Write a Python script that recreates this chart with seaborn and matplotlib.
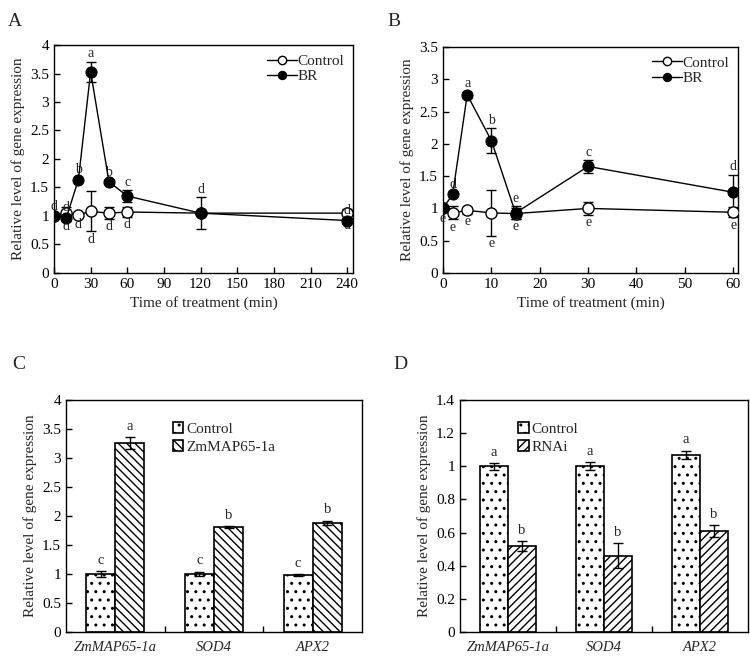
import numpy as np
import pandas as pd
import matplotlib
matplotlib.use("Agg")
import matplotlib.pyplot as plt
import seaborn as sns

sns.set_theme(style="white")
plt.rcParams['font.family'] = ['Liberation Serif', 'DejaVu Serif']
plt.rcParams['hatch.linewidth'] = 1.0

# ---------------- Data ----------------
# Panel A
a_time_br = [0, 10, 20, 30, 45, 60, 120, 240]
a_br = [1.0, 0.96, 1.64, 3.53, 1.60, 1.35, 1.05, 0.92]
a_br_err = [0.03, 0.05, 0.03, 0.18, 0.03, 0.10, 0.28, 0.04]
a_br_letters = ["d", "d", "b", "a", "b", "c", "d", "d"]
a_time_ctrl = [0, 10, 20, 30, 45, 60, 120, 240]
a_ctrl = [1.0, 1.05, 1.02, 1.08, 1.05, 1.07, 1.05, 1.05]
a_ctrl_err = [0.03, 0.10, 0.03, 0.35, 0.10, 0.08, 0.03, 0.08]
a_ctrl_letters = ["", "d", "d", "d", "d", "d", "", "d"]

# Panel B
b_time = [0, 2, 5, 10, 15, 30, 60]
b_br = [1.0, 1.22, 2.76, 2.05, 0.93, 1.65, 1.25]
b_br_err = [0.03, 0.03, 0.05, 0.19, 0.10, 0.10, 0.27]
b_br_letters = ["", "d", "a", "b", "e", "c", "d"]
b_ctrl = [1.0, 0.93, 0.97, 0.93, 0.92, 1.00, 0.94]
b_ctrl_err = [0.03, 0.10, 0.05, 0.35, 0.08, 0.10, 0.08]
b_ctrl_letters = ["e", "e", "e", "e", "e", "e", "e"]

# Panel C
genes = ["ZmMAP65-1a", "SOD4", "APX2"]
c_ctrl = [1.0, 1.0, 0.98]
c_ctrl_err = [0.05, 0.04, 0.02]
c_ctrl_letters = ["c", "c", "c"]
c_oe = [3.26, 1.81, 1.88]
c_oe_err = [0.10, 0.02, 0.04]
c_oe_letters = ["a", "b", "b"]

# Panel D
d_ctrl = [1.0, 1.0, 1.07]
d_ctrl_err = [0.02, 0.025, 0.025]
d_ctrl_letters = ["a", "a", "a"]
d_rnai = [0.52, 0.46, 0.61]
d_rnai_err = [0.03, 0.075, 0.035]
d_rnai_letters = ["b", "b", "b"]

# ---------------- Figure ----------------
fig = plt.figure(figsize=(7.5, 6.57), dpi=100)
axA = fig.add_axes([0.072, 0.5845, 0.399, 0.347])
axB = fig.add_axes([0.5907, 0.5845, 0.3933, 0.344])
axC = fig.add_axes([0.088, 0.0381, 0.3947, 0.3531])
axD = fig.add_axes([0.6133, 0.0381, 0.384, 0.3531])

FS = 11
ylab = "Relative level of gene expression"


def style_axes(ax):
    for s in ax.spines.values():
        s.set_color("black")
        s.set_linewidth(1.0)
    ax.tick_params(direction="in", length=4, width=1, colors="black",
                   labelsize=FS, bottom=True, left=True)
    ax.set_ylabel(ylab, fontsize=FS)


def fmt(v):
    return ("%g" % v)


def line_panel(ax, tb, br, brerr, brl, tc, ct, cterr, ctl, xlim, ylim, yticks, xticks):
    dfc = pd.DataFrame({"t": tc, "v": ct})
    dfb = pd.DataFrame({"t": tb, "v": br})
    ax.errorbar(tc, ct, yerr=cterr, fmt="none", ecolor="black", elinewidth=1, capsize=3.5, zorder=2)
    ax.errorbar(tb, br, yerr=brerr, fmt="none", ecolor="black", elinewidth=1, capsize=3.5, zorder=2)
    sns.lineplot(data=dfc, x="t", y="v", ax=ax, color="black", lw=1.0, marker="o",
                 markersize=8, markerfacecolor="white", markeredgecolor="black",
                 markeredgewidth=1.0, label="Control", zorder=3)
    sns.lineplot(data=dfb, x="t", y="v", ax=ax, color="black", lw=1.0, marker="o",
                 markersize=8, markerfacecolor="black", markeredgecolor="black",
                 label="BR", zorder=4)
    for x, y, e, l in zip(tb, br, brerr, brl):
        if l:
            ax.annotate(l, (x, y + e), xytext=(0, 1), textcoords="offset points",
                        ha="center", va="bottom", fontsize=10)
    for x, y, e, l in zip(tc, ct, cterr, ctl):
        if l:
            ax.annotate(l, (x, y - e), xytext=(0, -1), textcoords="offset points",
                        ha="center", va="top", fontsize=10)
    ax.set_xlim(*xlim)
    ax.set_ylim(*ylim)
    ax.set_yticks(yticks)
    ax.set_yticklabels([fmt(v) for v in yticks])
    ax.set_xticks(xticks)
    ax.set_xticklabels([fmt(v) for v in xticks])
    ax.set_xlabel("Time of treatment (min)", fontsize=FS)
    style_axes(ax)
    leg = ax.legend(loc="upper right", frameon=False, fontsize=FS, handlelength=2.0,
                    handletextpad=0.0, borderaxespad=0.2, labelspacing=0.1)
    for h in leg.legend_handles:
        h.set_markersize(6)


line_panel(axA, a_time_br, a_br, a_br_err, a_br_letters, a_time_ctrl, a_ctrl, a_ctrl_err,
           a_ctrl_letters, (0, 245), (0, 4), np.arange(0, 4.01, 0.5), np.arange(0, 241, 30))
line_panel(axB, b_time, b_br, b_br_err, b_br_letters, b_time, b_ctrl, b_ctrl_err,
           b_ctrl_letters, (0, 61), (0, 3.5), np.arange(0, 3.51, 0.5), np.arange(0, 61, 10))


def bar_panel(ax, ctrl, cerr, cl, trt, terr, tl, trt_name, hatch, ylim, yticks, leg_anchor):
    df = pd.DataFrame({
        "gene": genes * 2,
        "val": ctrl + trt,
        "grp": ["Control"] * 3 + [trt_name] * 3,
    })
    sns.barplot(data=df, x="gene", y="val", hue="grp", ax=ax, width=0.59,
                palette=["white", "white"], edgecolor="black", linewidth=1.2,
                errorbar=None, saturation=1)
    patches = [p for p in ax.patches if p.get_width() > 0 and p.get_height() > 0][:6]
    patches = sorted(patches, key=lambda p: p.get_x())
    vals = []
    for i in range(3):
        vals.append((ctrl[i], cerr[i], cl[i], "..", patches[2 * i]))
        vals.append((trt[i], terr[i], tl[i], hatch, patches[2 * i + 1]))
    for v, e, l, h, p in vals:
        p.set_hatch(h)
        xc = p.get_x() + p.get_width() / 2
        ax.errorbar(xc, v, yerr=e, fmt="none", ecolor="black", elinewidth=1, capsize=3.5, zorder=5)
        ax.annotate(l, (xc, v + e), xytext=(0, 3), textcoords="offset points",
                    ha="center", va="bottom", fontsize=10.5)
    ax.set_ylim(*ylim)
    ax.set_yticks(yticks)
    ax.set_yticklabels([fmt(round(v, 2)) for v in yticks])
    ax.set_xlim(-0.5, 2.5)
    ax.set_xticks([0.5, 1.5], minor=False)
    ax.set_xticklabels(["", ""])
    for i, g in enumerate(genes):
        ax.text(i, -0.04, g, transform=ax.get_xaxis_transform(), ha="center", va="top",
                fontsize=10.5, style="italic")
    ax.set_xlabel("")
    style_axes(ax)
    handles, labels = ax.get_legend_handles_labels()
    leg = ax.legend(handles, labels, loc="upper left", bbox_to_anchor=leg_anchor, frameon=False,
                    fontsize=FS, handlelength=0.7, handleheight=0.7, handletextpad=0.2,
                    labelspacing=0.25, borderaxespad=0)
    for hh, h in zip(leg.legend_handles, ["..", hatch]):
        hh.set_hatch(h)
        hh.set_edgecolor("black")
        hh.set_facecolor("white")


bar_panel(axC, c_ctrl, c_ctrl_err, c_ctrl_letters, c_oe, c_oe_err, c_oe_letters,
          "ZmMAP65-1a", "\\\\\\\\", (0, 4), np.arange(0, 4.01, 0.5), (0.34, 0.93))
bar_panel(axD, d_ctrl, d_ctrl_err, d_ctrl_letters, d_rnai, d_rnai_err, d_rnai_letters,
          "RNAi", "////", (0, 1.4), np.arange(0, 1.41, 0.2), (0.18, 0.93))

# Panel labels
fig.text(0.01, 0.98, "A", fontsize=14, va="top", ha="left")
fig.text(0.516, 0.98, "B", fontsize=14, va="top", ha="left")
fig.text(0.016, 0.458, "C", fontsize=14, va="top", ha="left")
fig.text(0.524, 0.458, "D", fontsize=14, va="top", ha="left")

fig.savefig("out.png", dpi=100, facecolor="white")
